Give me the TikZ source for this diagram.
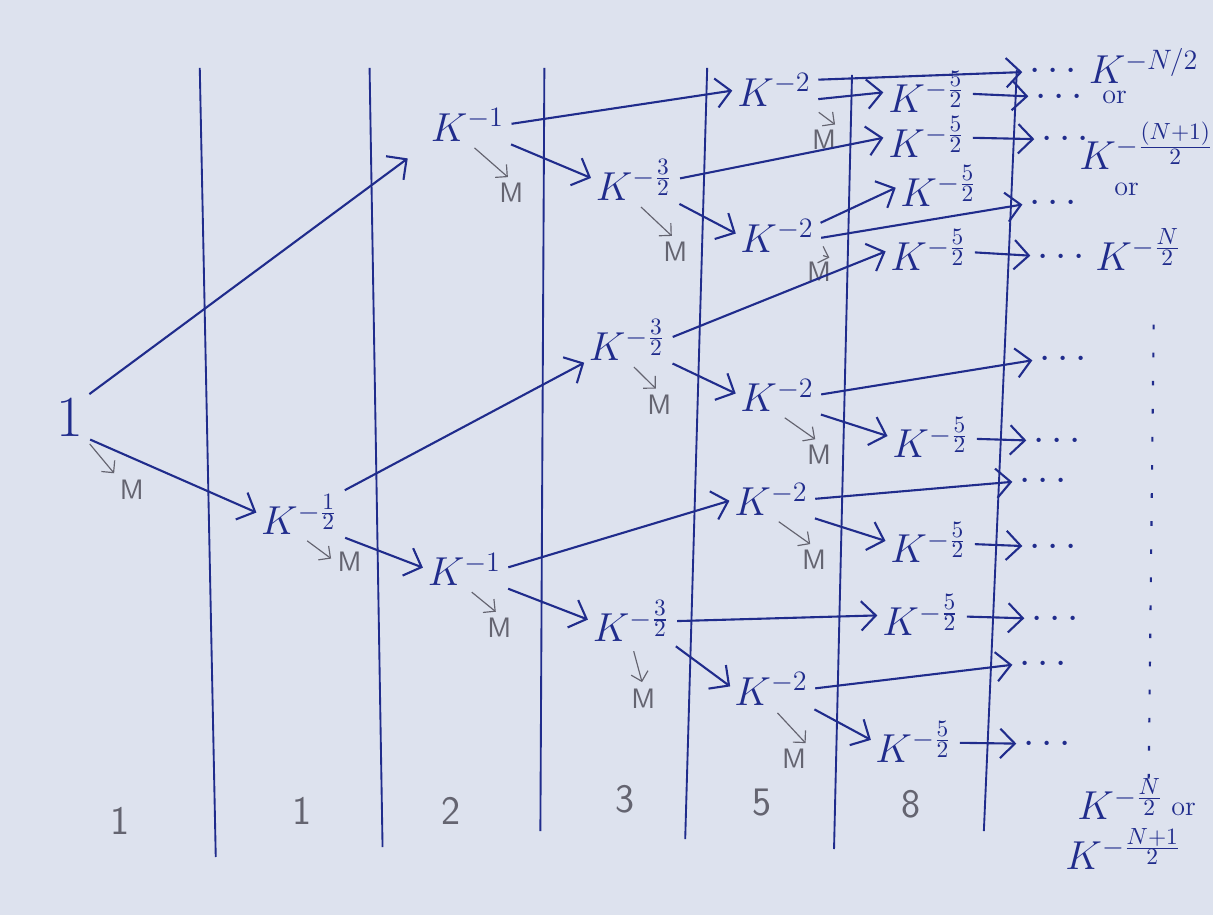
\documentclass[tikz,border=0pt]{standalone}
\usepackage{amsmath}
\usepackage{xcolor}
\usepackage{tikz}
\usetikzlibrary{arrows.meta}

\definecolor{ink}{RGB}{32,44,140}
\definecolor{pencil}{RGB}{100,100,112}
\definecolor{paper}{RGB}{221,226,238}

\begin{document}
\begin{tikzpicture}[x=0.015cm, y=-0.015cm,
  kbox/.style={text=ink, font=\LARGE, inner sep=0pt},
  mlab/.style={text=pencil, font=\large\sffamily, inner sep=1pt},
  cnt/.style={text=pencil, font=\LARGE\sffamily, inner sep=1pt},
  dotsbox/.style={text=ink, font=\LARGE, inner sep=1pt},
  orlab/.style={text=ink, font=\large, inner sep=1pt},
  arr/.style={-{Straight Barb[length=2.2mm]}, line width=0.9pt, draw=ink,
    shorten <=3pt, shorten >=2pt},
  marr/.style={-{Straight Barb[length=1.3mm]}, line width=0.5pt, draw=pencil,
    shorten <=4pt, shorten >=2pt},
  sepline/.style={draw=ink, line width=0.8pt}
]

%% ==== Paper ====
\fill[paper] (0,0) rectangle (1214,916);

%% ==== Column separators ====
\foreach \xa/\ya/\xb/\yb in {200/68/216/858, 370/68/383/848, 545/68/541/832,
    708/68/686/840, 853/75/835/850, 1018/70/985/832}
  \draw[sepline] (\xa,\ya) -- (\xb,\yb);

%% ==== Tree nodes ====
\node[kbox, font=\Huge] (one) at (70,418) {$1$};
\node[kbox] (kh)  at (300,515) {$K^{-\frac{1}{2}}$};
\node[kbox] (k1t) at (468,125) {$K^{-1}$};
\node[kbox] (k1b) at (465,570) {$K^{-1}$};
\node[kbox] (k3t) at (635,180) {$K^{-\frac{3}{2}}$};
\node[kbox] (k3m) at (628,340) {$K^{-\frac{3}{2}}$};
\node[kbox] (k3b) at (632,622) {$K^{-\frac{3}{2}}$};
\node[kbox] (k2a) at (775,90)  {$K^{-2}$};
\node[kbox] (k2b) at (778,236) {$K^{-2}$};
\node[kbox] (k2c) at (778,396) {$K^{-2}$};
\node[kbox] (k2d) at (772,500) {$K^{-2}$};
\node[kbox] (k2e) at (772,690) {$K^{-2}$};
\node[kbox] (k5a) at (928,92)  {$K^{-\frac{5}{2}}$};
\node[kbox] (k5b) at (928,137) {$K^{-\frac{5}{2}}$};
\node[kbox] (k5c) at (940,186) {$K^{-\frac{5}{2}}$};
\node[kbox] (k5d) at (930,250) {$K^{-\frac{5}{2}}$};
\node[kbox] (k5e) at (932,438) {$K^{-\frac{5}{2}}$};
\node[kbox] (k5f) at (930,543) {$K^{-\frac{5}{2}}$};
\node[kbox] (k5g) at (922,616) {$K^{-\frac{5}{2}}$};
\node[kbox] (k5h) at (915,743) {$K^{-\frac{5}{2}}$};

%% ==== Dots ====
\node[dotsbox] (dA) at (1058,72)  {$\cdots$};
\node[dotsbox] (dB) at (1064,98)  {$\cdots$};
\node[dotsbox] (dC) at (1070,140) {$\cdots$};
\node[dotsbox] (dD) at (1058,204) {$\cdots$};
\node[dotsbox] (dE) at (1066,258) {$\cdots$};
\node[dotsbox] (dF) at (1068,360) {$\cdots$};
\node[dotsbox] (dG) at (1062,442) {$\cdots$};
\node[dotsbox] (dH) at (1048,482) {$\cdots$};
\node[dotsbox] (dI) at (1058,548) {$\cdots$};
\node[dotsbox] (dJ) at (1060,620) {$\cdots$};
\node[dotsbox] (dK) at (1048,665) {$\cdots$};
\node[dotsbox] (dL) at (1052,745) {$\cdots$};

%% ==== Right-hand results ====
\node[kbox]  (kNa) at (1145,66)  {$K^{-N/2}$};
\node[orlab] (orA) at (1116,98)  {or};
\node[kbox]  (kNb) at (1148,146) {$K^{-\frac{(N+1)}{2}}$};
\node[orlab] (orB) at (1128,190) {or};
\node[kbox]  (kNc) at (1140,250) {$K^{-\frac{N}{2}}$};
\node[kbox]  (kNd) at (1122,800) {$K^{-\frac{N}{2}}$};
\node[orlab] (orC) at (1185,810) {or};
\node[kbox]  (kNe) at (1125,850) {$K^{-\frac{N+1}{2}}$};

\coordinate (vtop) at (1155,325);
\coordinate (vbot) at (1150,780);
\draw[ink, line width=0.9pt, dash pattern=on 2pt off 10pt] (vtop) -- (vbot);

%% ==== Column counts ====
\foreach \x/\y/\n [count=\i] in {120/822/1, 302/812/1, 452/812/2,
    626/800/3, 763/803/5, 912/805/8}
  \node[cnt] (c\i) at (\x,\y) {\n};

%% ==== M labels ====
\node[mlab] (m1)  at (132,490) {M};
\node[mlab] (m2)  at (350,562) {M};
\node[mlab] (m3)  at (512,193) {M};
\node[mlab] (m4)  at (500,628) {M};
\node[mlab] (m5)  at (676,252) {M};
\node[mlab] (m6)  at (660,405) {M};
\node[mlab] (m7)  at (644,700) {M};
\node[mlab] (m8)  at (825,140) {M};
\node[mlab] (m9)  at (820,272) {M};
\node[mlab] (m10) at (820,455) {M};
\node[mlab] (m11) at (815,560) {M};
\node[mlab] (m12) at (795,760) {M};

\foreach \a/\b in {one.south east/m1.north west, kh.south/m2.west,
    k1t.south/m3.north, k1b.south/m4.north, k3t.south/m5.north,
    k3m.south/m6.north, k3b.south/m7.north, k2a.south east/m8.north east,
    k2b.south east/m9.north east, k2c.south/m10.north, k2d.south/m11.north,
    k2e.south/m12.north east}
  \draw[marr] (\a) -- (\b);

%% ==== Tree arrows ====
\draw[arr, shorten >=12pt] (one.north east) -- (k1t.south west);
\foreach \a/\b in {one.south east/kh.west, kh.north east/k3m.south west,
    kh.south east/k1b.west, k1t.east/k2a.west, k1t.south east/k3t.west,
    k3t.east/k5b.west, k3t.south east/k2b.west, k2a.15/dA.west,
    k2a.-15/k5a.west, k2b.15/k5c.west, k2b.-5/dD.west, k3m.east/k5d.west,
    k3m.south east/k2c.west, k2c.east/dF.west, k2c.south east/k5e.west,
    k1b.east/k2d.west, k2d.east/dH.west, k2d.south east/k5f.west,
    k1b.south east/k3b.west, k3b.east/k5g.west, k3b.south east/k2e.west,
    k2e.east/dK.west, k2e.south east/k5h.west}
  \draw[arr] (\a) -- (\b);

%% ==== Last column to dots ====
\foreach \a/\b in {k5a/dB, k5b/dC, k5d/dE, k5e/dG, k5f/dI, k5g/dJ, k5h/dL}
  \draw[arr] (\a) -- (\b);

\end{tikzpicture}
\end{document}
